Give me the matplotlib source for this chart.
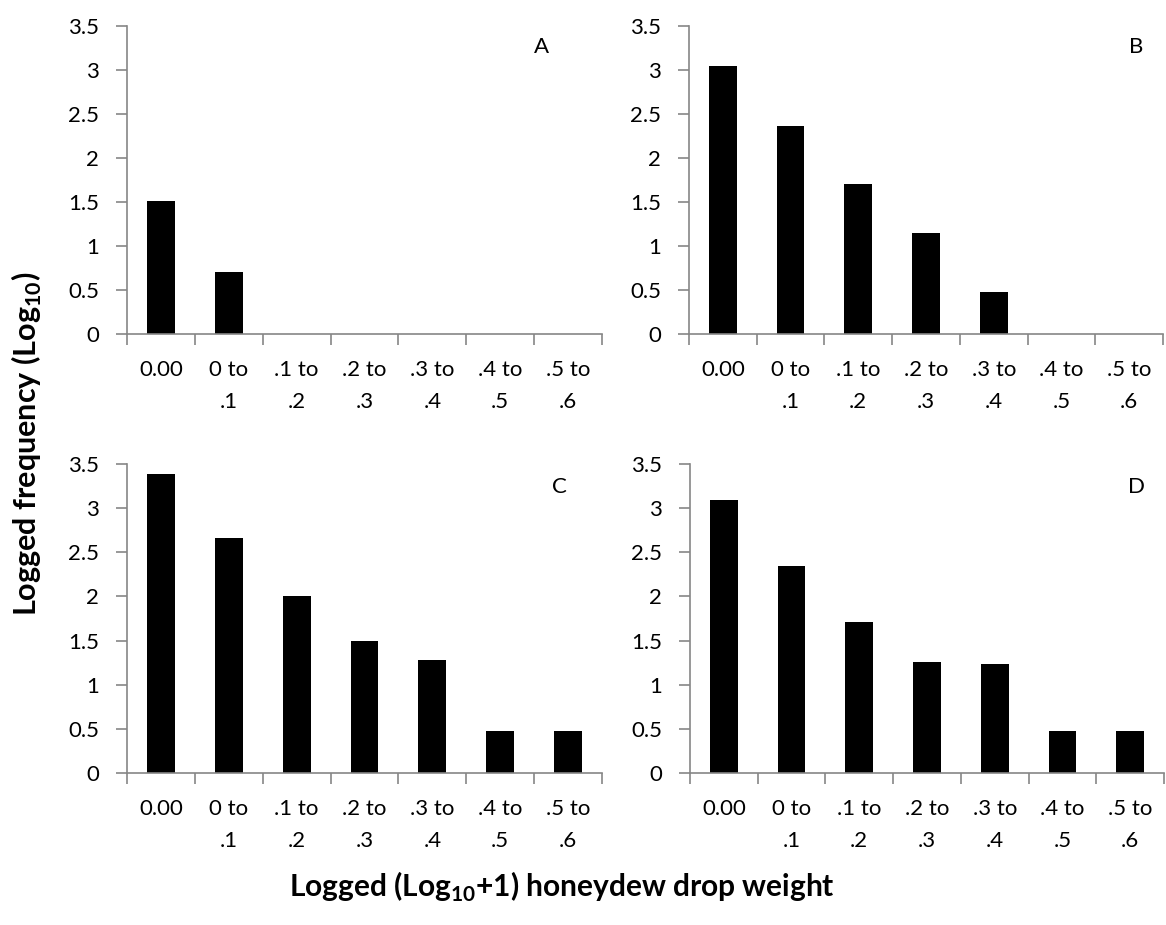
import numpy as np
import matplotlib.pyplot as plt

# category labels (bin of logged honeydew drop weight)
categories = ["0.00", "0 to\n.1", ".1 to\n.2", ".2 to\n.3", ".3 to\n.4", ".4 to\n.5", ".5 to\n.6"]

# logged frequency per panel
freq_a = [1.51, 0.70, 0, 0, 0, 0, 0]
freq_b = [3.05, 2.36, 1.70, 1.15, 0.48, 0, 0]
freq_c = [3.39, 2.66, 2.00, 1.49, 1.28, 0.48, 0.48]
freq_d = [3.09, 2.35, 1.71, 1.26, 1.23, 0.48, 0.48]
panel_letters = ["A", "B", "C", "D"]

plt.rcParams['font.family'] = ['Lato', 'DejaVu Sans']
plt.rcParams['mathtext.fontset'] = 'custom'
plt.rcParams['mathtext.rm'] = 'Lato'
plt.rcParams['mathtext.bf'] = 'Lato:bold'

W, H = 1166, 925
fig = plt.figure(figsize=(W / 100, H / 100), dpi=100)

# axes boxes in pixels: left, right, top, bottom
boxes = [(127, 602, 26, 334), (689, 1163, 26, 334),
         (127, 602, 464, 773), (690, 1164, 464, 773)]
letter_pos = [(542, 47), (1136, 47), (559, 487), (1136, 487)]
axis_grey = '#868686'

x = np.arange(len(categories))
for vals, box, letter, lp in zip([freq_a, freq_b, freq_c, freq_d], boxes, panel_letters, letter_pos):
    l, r, t, b = box
    ax = fig.add_axes([l / W, 1 - b / H, (r - l) / W, (b - t) / H])
    ax.bar(x, vals, width=0.41, color='black')
    ax.set_xlim(-0.5, len(categories) - 0.5)
    ax.set_ylim(0, 3.5)
    ax.set_yticks(np.arange(0, 3.51, 0.5))
    ax.set_yticklabels(['0', '0.5', '1', '1.5', '2', '2.5', '3', '3.5'])
    ax.set_xticks(x)
    ax.set_xticklabels(categories, linespacing=1.75)
    ax.set_xticks(np.arange(-0.5, len(categories)), minor=True)
    ax.tick_params(axis='x', which='major', length=0, pad=19, labelsize=16)
    ax.tick_params(axis='x', which='minor', length=8, width=1.2, color=axis_grey, direction='out')
    ax.tick_params(axis='y', length=8, width=1.2, color=axis_grey, pad=12, labelsize=16)
    for s in ['top', 'right']:
        ax.spines[s].set_visible(False)
    for s in ['left', 'bottom']:
        ax.spines[s].set_color(axis_grey)
        ax.spines[s].set_linewidth(1.2)
    fig.text(lp[0] / W, 1 - lp[1] / H, letter, ha='center', va='center', fontsize=16)

fig.text(27 / W, 1 - 444 / H, r'Logged frequency (Log$_\mathbf{10}$)', rotation=90,
         ha='center', va='center', fontsize=22, fontweight='bold')
fig.text(562 / W, 1 - 887 / H, r'Logged (Log$_\mathbf{10}$+1) honeydew drop weight',
         ha='center', va='center', fontsize=21.5, fontweight='bold')

plt.savefig('out.png', dpi=100)
